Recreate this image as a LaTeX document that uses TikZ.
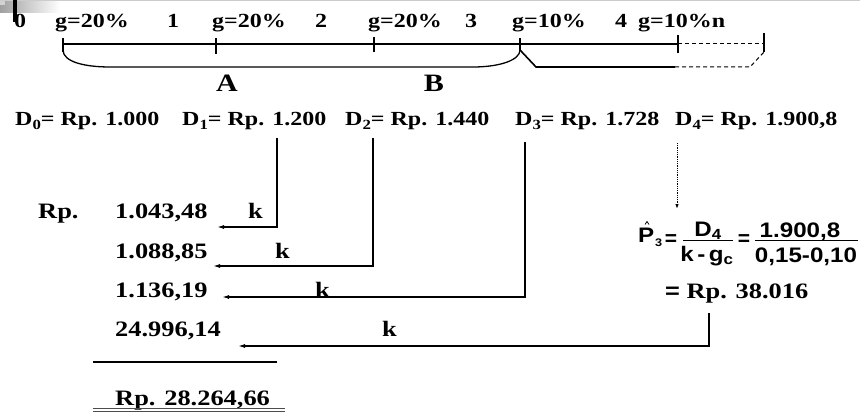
\documentclass[tikz,border=0pt]{standalone}
\usepackage{fontspec}
\setmainfont{Liberation Serif}[FakeStretch=1.2]
\newfontfamily\formsf{Liberation Sans}[FakeStretch=1.15]
\newfontfamily\formeq{Liberation Sans}
\usetikzlibrary{arrows.meta}
% lowered index used in the dividend labels
\newcommand\divsub[1]{\raisebox{-4.5pt}{\fontsize{14}{14}\selectfont #1}}

\begin{document}
\begin{tikzpicture}[x=1pt,y=-1pt,
  lbl/.style={inner sep=0pt, anchor=base west, font=\bfseries\fontsize{20}{21}\selectfont},
  dlbl/.style={inner sep=0pt, anchor=base west, font=\bfseries\fontsize{20}{22}\selectfont},
  big/.style={inner sep=0pt, anchor=base, font=\bfseries\fontsize{25}{26}\selectfont},
  amt/.style={inner sep=0pt, anchor=base west, font=\bfseries\fontsize{22}{24}\selectfont},
  fsf/.style={inner sep=0pt, font=\formsf\bfseries\fontsize{21}{22}\selectfont},
  feq/.style={inner sep=0pt, font=\formeq\bfseries\fontsize{21}{22}\selectfont},
  fsub/.style={inner sep=0pt, anchor=base west, font=\formsf\bfseries\fontsize{11}{12}\selectfont},
  axisline/.style={line width=2.2pt},
  tickmark/.style={line width=2pt},
  bracket/.style={line width=1.3pt},
  conn/.style={line width=1.3pt, -{Latex[length=7pt,width=4pt]}},
  dotconn/.style={line width=1pt, dash pattern=on 1pt off 0.8pt, -{Latex[length=5pt,width=3.5pt]}},
]
\useasboundingbox (0,0) rectangle (860,412);

% corner ornament
\shade[left color=gray!75, right color=white] (0,0) rectangle (60,13);
\fill[gray!35] (0,0) rectangle (5,5);
\draw[gray!40, line width=1pt] (0,0.5) -- (860,0.5);
\fill[black] (13,0) rectangle (16.5,22);

% period labels
\node[lbl] (t0) at (14,28) {0};
\node[lbl] (g1) at (55,28) {g=20\%};
\node[lbl] (t1) at (167,28) {1};
\node[lbl] (g2) at (212,28) {g=20\%};
\node[lbl] (t2) at (315,28) {2};
\node[lbl] (g3) at (368,28) {g=20\%};
\node[lbl] (t3) at (465,28) {3};
\node[lbl] (g4) at (512,28) {g=10\%};
\node[lbl] (t4) at (615,28) {4};
\node[lbl] (g5) at (638,28) {g=10\%n};

% time axis
\draw[axisline] (63,44) -- (678,44);
\draw[line width=1pt, dash pattern=on 4pt off 3pt] (678,44) -- (764,44);
\draw[tickmark] (63,38) -- (63,52);
\draw[tickmark] (216,38) -- (216,54);
\draw[tickmark] (374,37) -- (374,52);
\draw[tickmark] (520,38) -- (520,50);
\draw[tickmark] (678,35) -- (678,53);
\draw[line width=1.5pt] (764,33) -- (764,52);

% brackets for the two growth phases
\draw[bracket] (63,50) .. controls (63,62) and (85,67) .. (110,67) -- (473,67)
  .. controls (500,67) and (520,60) .. (520,50);
\draw[line width=1.6pt] (520,50) -- (536,67) -- (675,67);
\draw[line width=1pt, dash pattern=on 4pt off 3pt] (675,67) -- (750,67) -- (764,52);

\node[big] (A) at (227,92) {A};
\node[big] (B) at (434,92) {B};

% dividends
\node[dlbl] (d0) at (15,125) {D\divsub{0}= Rp. 1.000};
\node[dlbl] (d1) at (182,125) {D\divsub{1}= Rp. 1.200};
\node[dlbl] (d2) at (345,125) {D\divsub{2}= Rp. 1.440};
\node[dlbl] (d3) at (515,125) {D\divsub{3}= Rp. 1.728};
\node[dlbl] (d4) at (675,125) {D\divsub{4}= Rp. 1.900,8};

% present values
\node[amt] (rp) at (38,218) {Rp.};
\node[amt] (a1) at (115,218) {1.043,48};
\node[amt] (a2) at (115,258) {1.088,85};
\node[amt] (a3) at (115,297) {1.136,19};
\node[amt] (a4) at (115,336) {24.996,14};

\node[amt] (k1) at (248,218) {k};
\node[amt] (k2) at (275,258) {k};
\node[amt] (k3) at (315,297) {k};
\node[amt] (k4) at (382,336) {k};

% terminal value formula
\draw[line width=0.8pt] (645,224.5) -- (647,221.5) -- (649,224.5);
\node[fsf, anchor=base west] (ph) at (638,242) {P};
\node[fsub] (ph3) at (655,246) {3};
\node[feq] (eq1) at (671,240) {=};
\draw[line width=1pt] (683,240) -- (733,240);
\node[fsf, anchor=base] (num1) at (708,236) {D\textsubscript{4}};
\node[fsf, anchor=base] (den1) at (707,261) {k\,-\,g\textsubscript{c}};
\node[feq] (eq2) at (744,240) {=};
\draw[line width=1pt] (755,240) -- (858,240);
\node[fsf, anchor=base] (num2) at (800,237) {1.900,8};
\node[fsf, anchor=base] (den2) at (806,262) {0,15-0,10};
\node[amt, anchor=base west] (res) at (665,298) {{\formsf =} Rp. 38.016};

% discounting arrows
\coordinate (v1) at (277,0);
\coordinate (v2) at (373,0);
\coordinate (v3) at (525,0);
\coordinate (v4) at (677,0);
\coordinate (v5) at (709,0);
\coordinate (e1) at (217,227);
\coordinate (e2) at (213,266);
\coordinate (e3) at (222,297);
\coordinate (e4) at (677,209);
\coordinate (e5) at (238,346);
\draw[conn] (d1.base -| v1) ++(0,13) |- (e1);
\draw[conn] (d2.base -| v2) ++(0,13) |- (e2);
\draw[conn] (d3.base -| v3) ++(0,17) |- (e3);
\draw[dotconn] (d4.base -| v4) ++(0,18) -- (e4);
\draw[conn] (res.base -| v5) ++(0,15) |- (e5);

% sum
\draw[line width=1.8pt] (93,362) -- (277,362);
\node[amt] (tot) at (115,405) {Rp. 28.264,66};
\draw[black!70, line width=1pt] (93,408.5) -- (285,408.5);
\draw[black!70, line width=1pt] (93,411.5) -- (285,411.5);
\end{tikzpicture}
\end{document}
